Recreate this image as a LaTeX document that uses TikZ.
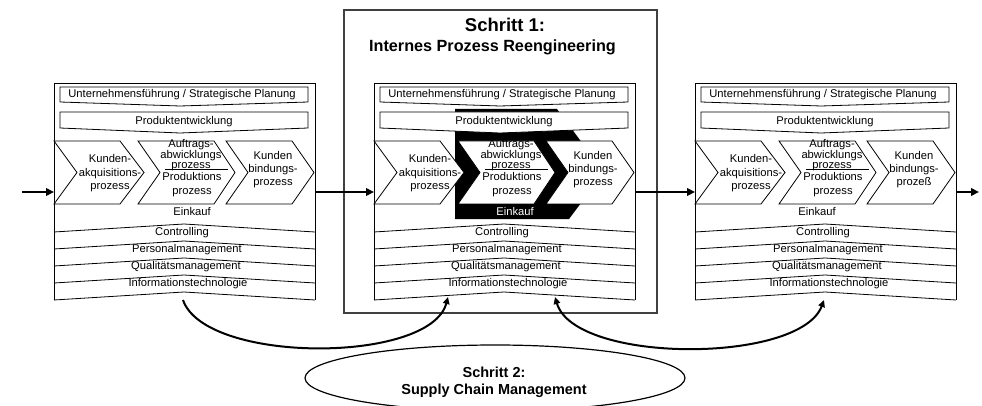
\documentclass[tikz,border=0pt]{standalone}
\usepackage{fontspec}
\setmainfont{Liberation Sans}
\usetikzlibrary{arrows.meta,shapes.geometric}

\tikzset{
  lbl/.style={inner sep=0pt, font=\fontsize{11.2}{13.5}\selectfont, align=center},
  band/.style={draw, fill=white, line width=0.8pt, line join=miter},
  chev/.style={draw, fill=white, line width=0.8pt, line join=miter},
  thinline/.style={line width=0.8pt},
  flow/.style={line width=2.6pt, -{Triangle[length=8pt,width=7.5pt]}},
  link/.style={line width=2pt},
}

% One process block: #1 name, #2 left edge, #3 x of "Einkauf",
% #4 last word of the third chevron, #5 colour of "Einkauf"
\newcommand\prozessblock[5]{%
\begin{scope}[shift={(#2,0)}]
  \draw[thinline] (0,300) -- (0,83) -- (261,83) -- (261,300);
  \draw[band] (6,87) -- (254,87) -- (254,102) -- (126,106) -- (6,102) -- cycle;
  \node[lbl] (#1-top) at (128,95) {Unternehmensführung / Strategische Planung};
  \draw[band] (6,112) -- (254,112) -- (254,128) -- (126,133) -- (6,128) -- cycle;
  \node[lbl] (#1-pe) at (130,122) {Produktentwicklung};
  \draw[chev] (0,141) -- (66,141) -- (90,172.5) -- (66,204) -- (0,204) -- (23,172.5) -- cycle;
  \draw[chev] (84,141) -- (160,141) -- (181,172.5) -- (160,204) -- (84,204) -- (106,172.5) -- cycle;
  \draw[chev] (172,141) -- (238,141) -- (260,172.5) -- (238,204) -- (172,204) -- (194,172.5) -- cycle;
  \node[lbl] (#1-ka) at (56,173.5) {Kunden-\\akquisitions-\\prozess};
  \node[lbl, font=\fontsize{11.2}{10.5}\selectfont] (#1-aa) at (137,155.5) {Auftrags-\\abwicklungs\\prozess};
  \node[lbl, font=\fontsize{11.2}{14}\selectfont] (#1-pp) at (138,185) {Produktions\\prozess};
  \draw[thinline] (111,169) -- (174,169);
  \node[lbl, font=\fontsize{11.2}{13}\selectfont] (#1-kb) at (219,170) {Kunden\\bindungs-\\#4};
  \node[lbl, text=#5] (#1-ek) at (#3,211) {Einkauf};
  \foreach \yy in {232,249,266,283,300}
    \draw[thinline] (0,\yy) -- (130,\yy-8) -- (261,\yy);
  \node[lbl] (#1-co) at (128,232.5) {Controlling};
  \node[lbl] (#1-pm) at (133,249.5) {Personalmanagement};
  \node[lbl] (#1-qm) at (132,266.5) {Qualitätsmanagement};
  \node[lbl] (#1-it) at (134,284) {Informationstechnologie};
  \coordinate (#1-w) at (0,192);
  \coordinate (#1-e) at (261,192);
  \coordinate (#1-s) at (129,300);
  \coordinate (#1-sl) at (74,297);
  \coordinate (#1-sr) at (181,297);
\end{scope}}

\begin{document}
\begin{tikzpicture}[x=1pt,y=-1pt]
  \clip (0,0) rectangle (982,406);

  % frame of step 1
  \node[draw=black!75, line width=1.3pt, minimum width=313, minimum height=303,
        inner sep=0pt] (step1) at (500.5,161.5) {};
  \node[anchor=base, inner sep=0pt, font=\bfseries\fontsize{18.5}{20}\selectfont]
        (title1) at (505,32) {Schritt 1:};
  \node[anchor=base, inner sep=0pt, font=\bfseries\fontsize{16.2}{18}\selectfont]
        (title2) at (492.5,52) {Internes Prozess Reengineering};

  % highlighted order / production process
  \fill[black] (455,109) -- (557,109) -- (604,172.5) -- (569,219) -- (455,219) -- cycle;

  \prozessblock{b1}{54}{138}{prozess}{black}
  \prozessblock{b2}{374}{141}{prozess}{white}
  \prozessblock{b3}{695}{122}{prozeß}{black}

  % flow between the blocks
  \coordinate (in) at (22,192);
  \coordinate (out) at (979,192);
  \draw[flow] (in) -- (b1-w);
  \draw[flow] (b1-e) -- (b2-w);
  \draw[flow] (b2-e) -- (b3-w);
  \draw[flow] (b3-e) -- (out);

  % step 2
  \node[draw, ellipse, line width=1.2pt, minimum width=380, minimum height=66,
        inner sep=0pt] (step2) at (495,378) {};
  \node[inner sep=0pt, align=center, font=\bfseries\fontsize{14.5}{17}\selectfont]
        (step2txt) at (494,382) {Schritt 2:\\Supply Chain Management};
  \draw[link, -{Triangle[length=7pt,width=6.5pt]}]
        (b1-s) .. controls (205,364) and (430,364) .. (b2-sl);
  \draw[link, {Triangle[length=7pt,width=6.5pt]}-{Triangle[length=7pt,width=6.5pt]}]
        (b2-sr) .. controls (575,364) and (800,364) .. (b3-s);
\end{tikzpicture}
\end{document}
